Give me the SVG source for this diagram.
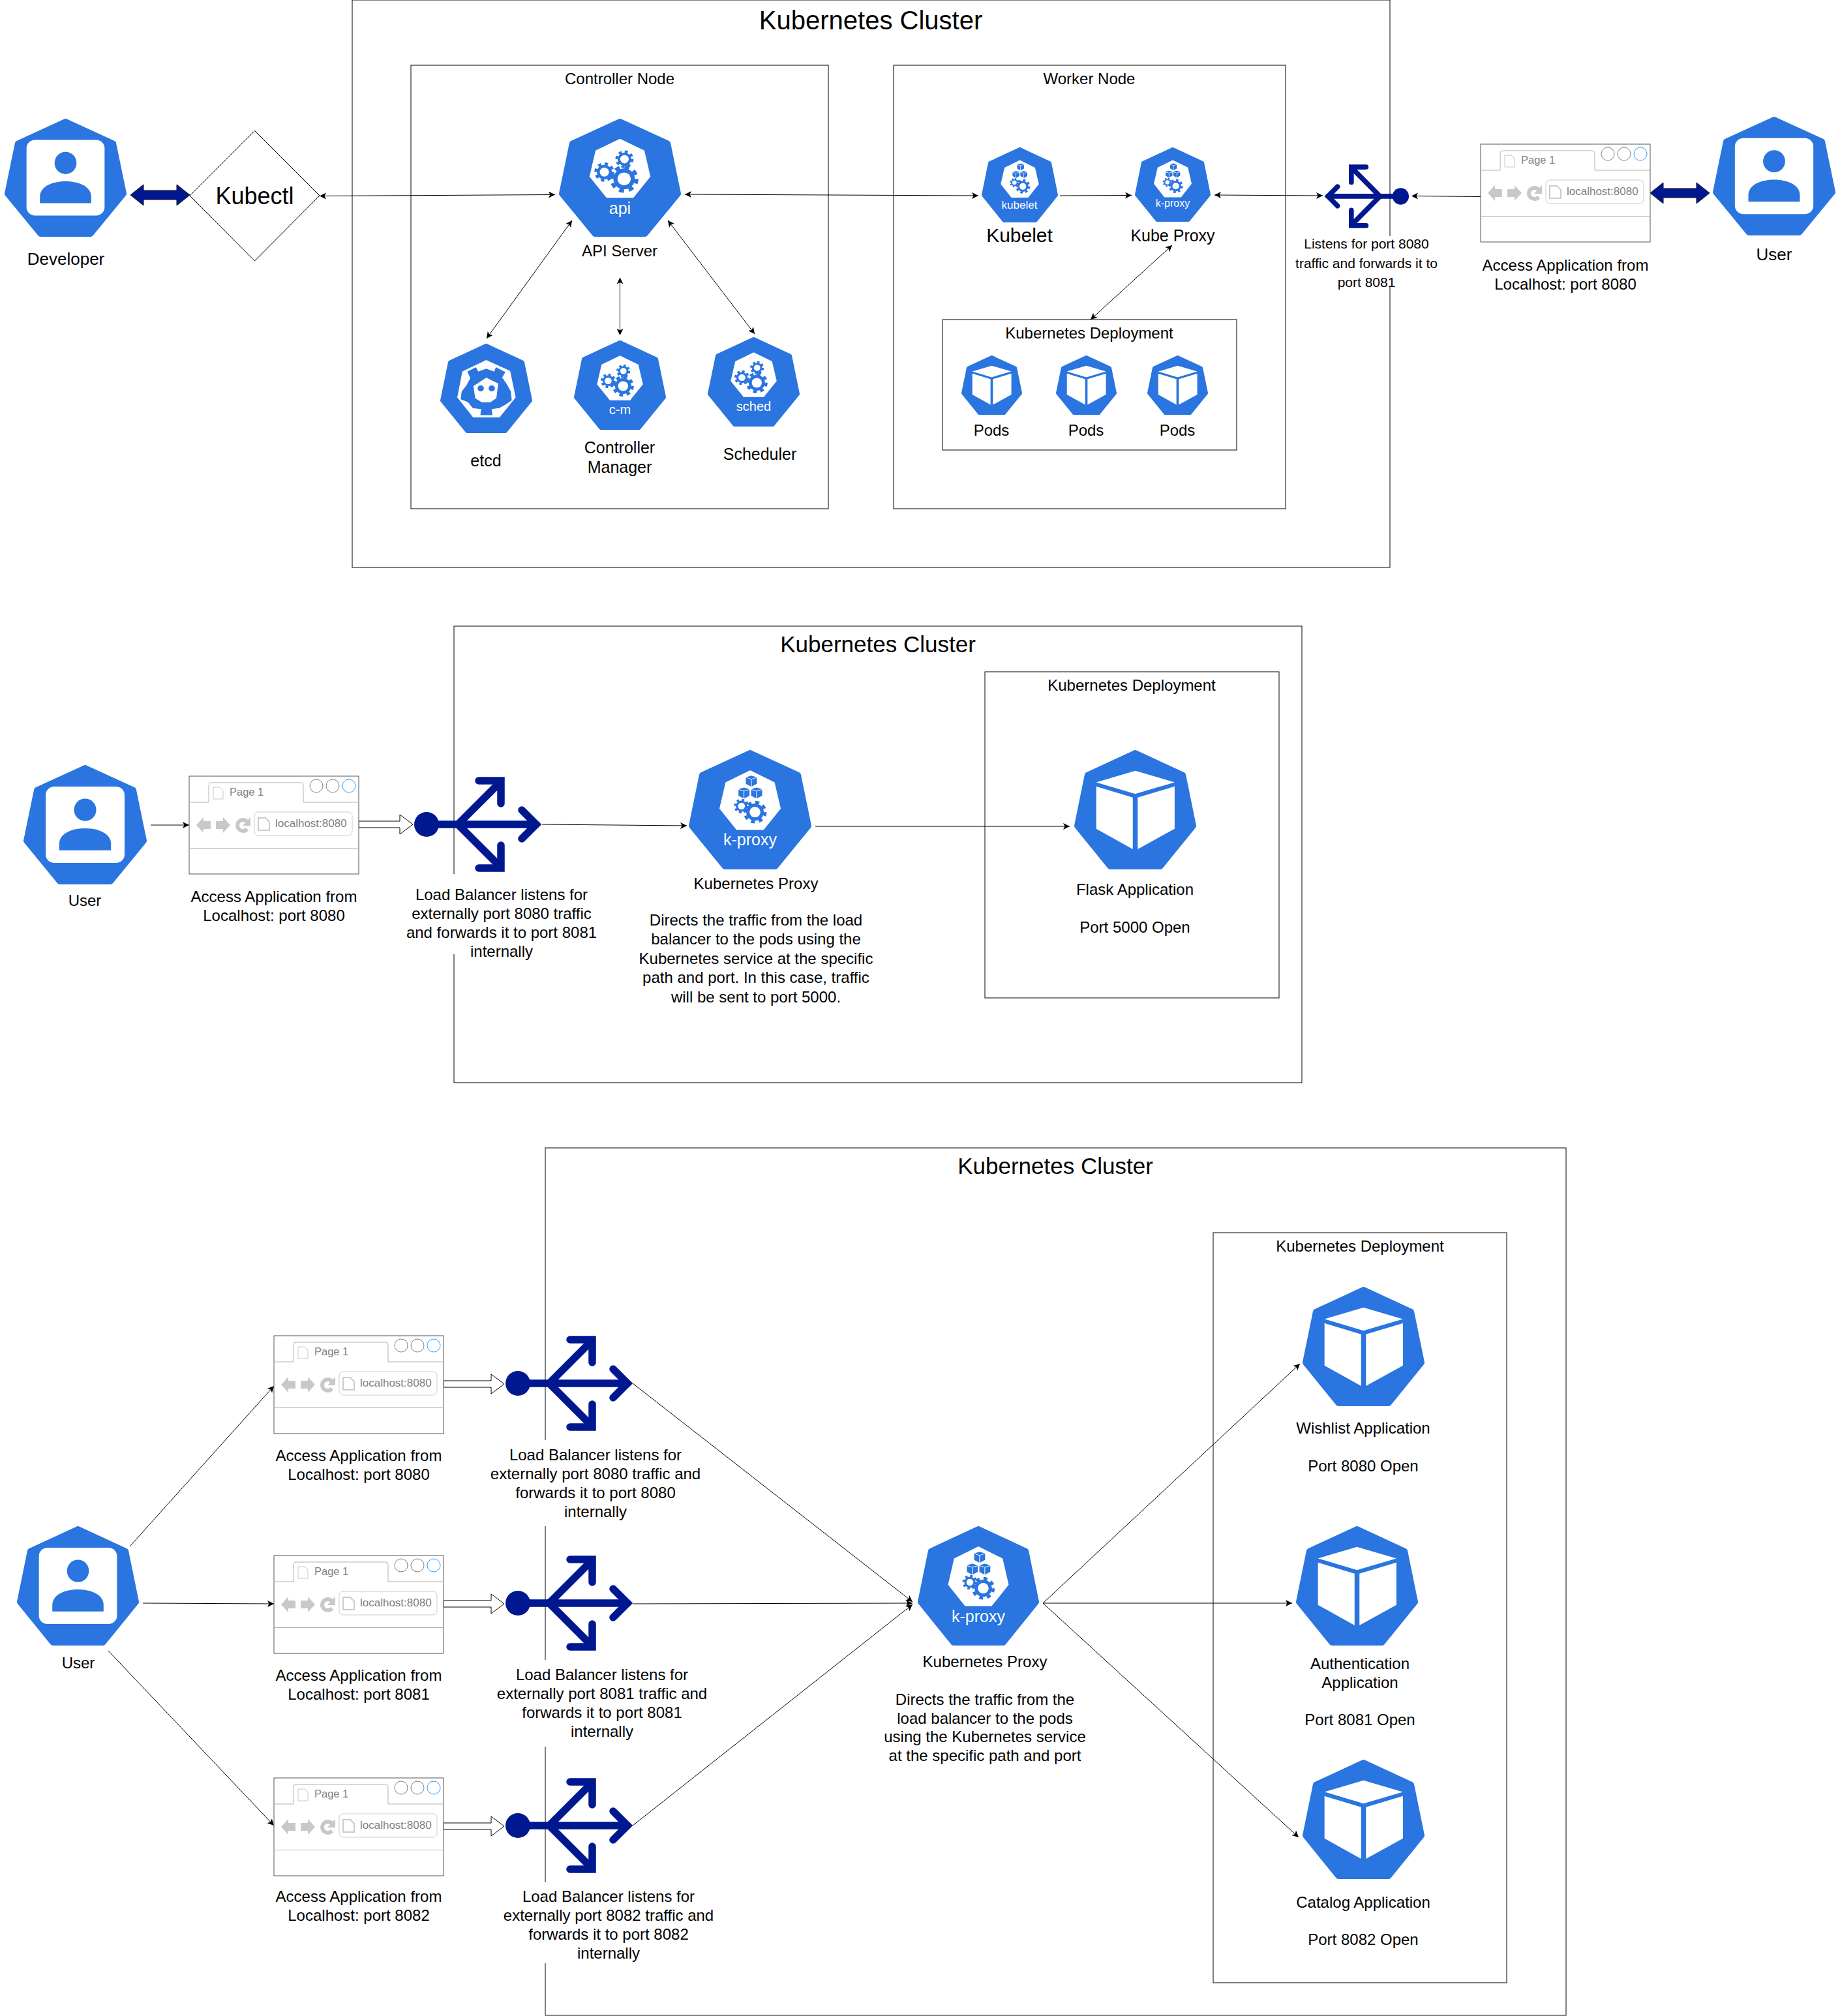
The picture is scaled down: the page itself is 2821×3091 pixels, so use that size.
<svg xmlns="http://www.w3.org/2000/svg" width="2821" height="3091" viewBox="0 0 2821 3091">
<style>
text{font-family:"Liberation Sans",Arial,sans-serif;font-size:24px;fill:#000;text-anchor:middle}
.box{fill:none;stroke:#000;stroke-width:1}
.c{fill:none;stroke:#000;stroke-width:1;marker-end:url(#ah)}
.cc{fill:none;stroke:#000;stroke-width:1;marker-end:url(#ah);marker-start:url(#ahs)}
.wl{fill:#fff}
.br{font-size:17px;fill:#808080;text-anchor:start}
.pg{font-size:16.5px;fill:#808080;text-anchor:start}
.hollow{fill:#fff;stroke:#000;stroke-width:1}
.navy{fill:#00188f;stroke:#111;stroke-width:1}
.k8s{fill:#fff}
</style>
<defs>
<marker id="ah" markerUnits="userSpaceOnUse" markerWidth="12" markerHeight="11" refX="10" refY="5" orient="auto"><path d="M0 0L10 5L0 10L2.500 5Z" fill="#000"/></marker>
<marker id="ahs" markerUnits="userSpaceOnUse" markerWidth="12" markerHeight="11" refX="0" refY="5" orient="auto"><path d="M10 0L0 5L10 10L7.500 5Z" fill="#000"/></marker>
<g id="gear"><circle r="9.5" fill="none" stroke="#2a75e0" stroke-width="3.4" stroke-dasharray="3.73 3.73"/><circle r="8.4" fill="#2a75e0"/><circle r="5.2" fill="#fff"/></g>
<g id="cubeShape"><path d="M50 17.4L82.3 27L50 36.7L18 27Z"/><path d="M18 30.5L48 39.8V83L18 66Z"/><path d="M52 39.8L82.3 30.5V66L52 83Z"/></g>
<polygon id="h" points="50,2.5 89,21 97.5,63.5 70.5,97.5 29.5,97.5 2.5,63.5 11,21" fill="#2a75e0" stroke="#2a75e0" stroke-width="5" stroke-linejoin="round"/>
<polygon id="inner" points="50,17 70,27 75,49 61,67 39,67 25,49 30,27" fill="#fff"/>
<symbol id="i-user" viewBox="0 0 100 100" preserveAspectRatio="none"><use href="#h"/><rect x="18" y="18" width="64" height="64" rx="7" fill="#fff"/><ellipse cx="50" cy="37.5" rx="9" ry="9.4" fill="#2a75e0"/><path d="M29 71.5V66C29 58 38 53 50 53S71 58 71 66V71.5Z" fill="#2a75e0"/></symbol>
<symbol id="i-ctl" viewBox="0 0 100 100" preserveAspectRatio="none"><use href="#h"/><use href="#inner"/><use href="#gear" transform="translate(53.4,51) scale(1.05)"/><use href="#gear" transform="translate(53.7,34.3) scale(.67)"/><use href="#gear" transform="translate(37.2,45.2) scale(.73)"/></symbol>
<symbol id="i-kp" viewBox="0 0 100 100" preserveAspectRatio="none"><use href="#h"/><use href="#inner"/><use href="#cubeShape" fill="#2a75e0" transform="translate(44,19) scale(.14)"/><use href="#cubeShape" fill="#2a75e0" transform="translate(38,29) scale(.14)"/><use href="#cubeShape" fill="#2a75e0" transform="translate(48.3,29) scale(.14)"/><use href="#gear" transform="translate(43,47) scale(.55)"/><use href="#gear" transform="translate(54,52) scale(.85)"/></symbol>
<symbol id="i-pod" viewBox="0 0 100 100" preserveAspectRatio="none"><use href="#h"/><use href="#cubeShape" fill="#fff"/></symbol>
<symbol id="i-etcd" viewBox="0 0 100 100" preserveAspectRatio="none"><use href="#h"/><polygon points="50,18.3 76,30.5 82,60 64.5,82.4 35.7,82.4 18.5,60 24,31" fill="#fff"/><polygon points="29.4,31.2 38.7,26.3 41.4,31.2 49.9,28 58.6,31.2 60.5,26.3 70.8,31.7 67.3,37.8 72.2,45.1 76.8,53.7 77.7,63.4 70.8,68.3 64,72 55.9,73.2 56.7,80 43.6,80 44.4,73.2 35.4,72 30,65.4 22.3,62.2 23.2,53.7 28.6,46.3 32.7,38.5" fill="#2a75e0"/><polygon points="50,38 63,44.5 61,61 54.5,65.6 45,65.6 38,61 36,47.5" fill="#fff"/><circle cx="44" cy="50" r="3.4" fill="#2a75e0"/><circle cx="56" cy="50" r="3.4" fill="#2a75e0"/></symbol>
<symbol id="i-lb" viewBox="0 0 196 146" overflow="visible"><circle cx="19" cy="73" r="19" fill="#00188f"/><g fill="none" stroke="#00188f" stroke-width="11.500" stroke-linecap="round"><path d="M19 73H187"/><path d="M165 51L187 73L165 95" stroke-linejoin="miter"/><path d="M67 73L130 10"/><path d="M67 73L130 136"/><path d="M99 6H133V41" stroke-linejoin="miter"/><path d="M99 140H133V105" stroke-linejoin="miter"/></g></symbol>
<symbol id="i-br" viewBox="0 0 260 150" overflow="visible"><rect width="260" height="150" fill="#fff" stroke="#555" stroke-width="1"/><path d="M0 40H30V14Q30 10 34 10H171Q175 10 175 14V40H260" fill="#fff" stroke="#b3b3b3"/><path d="M37 17H47L52 22V35H37Z" fill="none" stroke="#c8c8c8"/><circle cx="195" cy="15" r="10" fill="none" stroke="#808080"/><circle cx="220" cy="15" r="10" fill="none" stroke="#808080"/><circle cx="245" cy="15" r="10" fill="none" stroke="#29a0ff"/><path d="M0 110.500H260" stroke="#b3b3b3"/><path d="M11 75L22 63V69H33V81H22V87Z" fill="#c8c8c8"/><path d="M63 75L52 63V69H41V81H52V87Z" fill="#c8c8c8"/><path d="M89 70A8.500 8.500 0 1 0 89 81" fill="none" stroke="#c8c8c8" stroke-width="6"/><path d="M94 63V76H82Z" fill="#c8c8c8"/><rect x="100" y="55" width="150" height="36" rx="6" fill="none" stroke="#ccc"/><path d="M106 64H117L123 70V83H106Z" fill="none" stroke="#ccc" stroke-width="2"/></symbol>
<path id="hb" d="M0 -5H63V-15L83 0L63 15V5H0Z"/>
<path id="hb2" d="M0 -5H73V-15L93 0L73 15V5H0Z"/>
<path id="db" d="M0 0L20 -16V-7H71V-16L91 0L71 16V7H20V16Z"/>
</defs>

<g id="frames">
<rect class="box" x="540" y="0" width="1591" height="870"/>
<rect class="box" x="696" y="960" width="1300" height="700"/>
<rect class="box" x="836" y="1760" width="1565" height="1330"/>
<rect class="wl" x="1985" y="362" width="220" height="78"/>
<rect class="wl" x="625" y="1340" width="290" height="123"/>
<rect class="wl" x="760" y="2208" width="320" height="132"/>
<rect class="wl" x="770" y="2545" width="320" height="133"/>
<rect class="wl" x="780" y="2886" width="320" height="124"/>
</g>

<g id="connectors">
<path class="cc" d="M490 300.500L851 298.500"/>
<path class="cc" d="M1050 298L1500 300"/>
<path class="c" d="M1625 300L1735 299.500"/>
<path class="cc" d="M1862 299L2028 300"/>
<path class="c" d="M2270 301.500L2164 300.500"/>
<path class="cc" d="M877 338L746 519"/>
<path class="cc" d="M950.500 425.500V514"/>
<path class="cc" d="M1024 338L1157 512"/>
<path class="cc" d="M1797 376L1672 490"/>
<use class="navy" href="#db" x="200" y="299"/>
<use class="navy" href="#db" x="2530" y="296"/>
<path class="c" d="M231 1265H290"/>
<path class="c" d="M831 1264L1053 1266"/>
<path class="c" d="M1250 1267H1640"/>
<use class="hollow" href="#hb" x="550" y="1264"/>
<use class="hollow" href="#hb2" x="680" y="2122"/>
<use class="hollow" href="#hb2" x="680" y="2459"/>
<use class="hollow" href="#hb2" x="680" y="2800"/>
<path class="c" d="M199 2371L420 2125"/>
<path class="c" d="M219 2458L420 2459"/>
<path class="c" d="M166 2531L420 2799"/>
<path class="c" d="M970 2121L1399 2456"/>
<path class="c" d="M970 2459L1399 2458"/>
<path class="c" d="M970 2799L1399 2460"/>
<path class="c" d="M1599 2458L1993 2091"/>
<path class="c" d="M1599 2458H1981"/>
<path class="c" d="M1599 2458L1991 2817"/>
</g>

<g id="titles">
<text x="1335" y="45" style="font-size:40px">Kubernetes Cluster</text>
<text x="1346" y="1000" style="font-size:35px">Kubernetes Cluster</text>
<text x="1618" y="1800" style="font-size:35px">Kubernetes Cluster</text>
</g>

<g id="controller-node"><rect class="box" x="630" y="100" width="640" height="680"/><text x="950" y="129">Controller Node</text></g>
<g id="worker-node"><rect class="box" x="1370" y="100" width="601" height="680"/><text x="1670" y="129">Worker Node</text></g>
<g id="deployment-1"><rect class="box" x="1445" y="490" width="451" height="200"/><text x="1670" y="519">Kubernetes Deployment</text></g>
<g id="deployment-2"><rect class="box" x="1510" y="1030" width="451" height="500"/><text x="1735" y="1059">Kubernetes Deployment</text></g>
<g id="deployment-3"><rect class="box" x="1860" y="1890" width="450" height="1150"/><text x="2085" y="1919">Kubernetes Deployment</text></g>

<g id="developer"><use href="#i-user" x="7" y="182" width="187" height="181"/><text x="101" y="406" style="font-size:26px">Developer</text></g>
<g id="kubectl"><path d="M291 300L390.500 200.500L490 300L390.500 400Z" fill="#fff" stroke="#000"/><text x="390.500" y="313" style="font-size:36px">Kubectl</text></g>
<g id="api-server"><use href="#i-ctl" x="857" y="182" width="187" height="181"/><text x="950.500" y="328" class="k8s" style="font-size:25px">api</text><text x="950" y="393">API Server</text></g>
<g id="etcd"><use href="#i-etcd" x="675" y="527" width="141" height="137"/><text x="745" y="715" style="font-size:25px">etcd</text></g>
<g id="controller-manager"><use href="#i-ctl" x="880" y="522" width="141" height="137"/><text x="950.500" y="635" class="k8s" style="font-size:20px">c-m</text><text x="950" y="695" style="font-size:25px">Controller</text><text x="950" y="725" style="font-size:25px">Manager</text></g>
<g id="scheduler"><use href="#i-ctl" x="1085" y="517" width="141" height="137"/><text x="1155.500" y="630" class="k8s" style="font-size:20px">sched</text><text x="1165" y="705" style="font-size:25px">Scheduler</text></g>
<g id="kubelet"><use href="#i-kp" x="1505" y="226" width="117" height="115"/><text x="1563" y="320" class="k8s" style="font-size:17px">kubelet</text><text x="1563" y="371" style="font-size:30px">Kubelet</text></g>
<g id="kube-proxy"><use href="#i-kp" x="1740" y="226" width="116" height="114"/><text x="1798" y="317" class="k8s" style="font-size:16px">k-proxy</text><text x="1798" y="370" style="font-size:25px">Kube Proxy</text></g>
<g id="pod-1"><use href="#i-pod" x="1474" y="545" width="93" height="91"/><text x="1520" y="668">Pods</text></g>
<g id="pod-2"><use href="#i-pod" x="1619" y="545" width="93" height="91"/><text x="1665" y="668">Pods</text></g>
<g id="pod-3"><use href="#i-pod" x="1759" y="545" width="93" height="91"/><text x="1805" y="668">Pods</text></g>
<g id="lb-top"><use href="#i-lb" width="196" height="146" transform="translate(2160,252) scale(-0.663,0.671)"/><text x="2095" y="381" style="font-size:21px">Listens for port 8080</text><text x="2095" y="411" style="font-size:21px">traffic and forwards it to</text><text x="2095" y="440" style="font-size:21px">port 8081</text></g>
<g id="browser-top"><use href="#i-br" x="2270" y="221" width="260" height="150"/><text class="pg" x="2332" y="251">Page 1</text><text class="br" x="2402" y="299">localhost:8080</text><text x="2400" y="415">Access Application from</text><text x="2400" y="444">Localhost: port 8080</text></g>
<g id="user-top"><use href="#i-user" x="2626" y="179" width="188" height="182"/><text x="2720" y="399" style="font-size:26px">User</text></g>

<g id="user-2"><use href="#i-user" x="36" y="1173" width="189" height="183"/><text x="130" y="1389">User</text></g>
<g id="browser-2"><use href="#i-br" x="290" y="1190" width="260" height="150"/><text class="pg" x="352" y="1220">Page 1</text><text class="br" x="422" y="1268">localhost:8080</text><text x="420" y="1383">Access Application from</text><text x="420" y="1412">Localhost: port 8080</text></g>
<g id="lb-2"><use href="#i-lb" x="635" y="1191" width="196" height="146"/><text x="769" y="1380">Load Balancer listens for</text><text x="769" y="1409">externally port 8080 traffic</text><text x="769" y="1438">and forwards it to port 8081</text><text x="769" y="1467">internally</text></g>
<g id="proxy-2"><use href="#i-kp" x="1056" y="1150" width="188" height="183"/><text x="1150" y="1296" class="k8s" style="font-size:25px">k-proxy</text><text x="1159" y="1363">Kubernetes Proxy</text><text x="1159" y="1419">Directs the traffic from the load</text><text x="1159" y="1448">balancer to the pods using the</text><text x="1159" y="1478">Kubernetes service at the specific</text><text x="1159" y="1507">path and port. In this case, traffic</text><text x="1159" y="1537">will be sent to port 5000.</text></g>
<g id="flask"><use href="#i-pod" x="1647" y="1150" width="187" height="183"/><text x="1740" y="1372">Flask Application</text><text x="1740" y="1430">Port 5000 Open</text></g>

<g id="user-3"><use href="#i-user" x="26" y="2340" width="187" height="183"/><text x="120" y="2558">User</text></g>
<g id="browser-3a"><use href="#i-br" x="420" y="2048" width="260" height="150"/><text class="pg" x="482" y="2078">Page 1</text><text class="br" x="552" y="2126">localhost:8080</text><text x="550" y="2240">Access Application from</text><text x="550" y="2269">Localhost: port 8080</text></g>
<g id="browser-3b"><use href="#i-br" x="420" y="2385" width="260" height="150"/><text class="pg" x="482" y="2415">Page 1</text><text class="br" x="552" y="2463">localhost:8080</text><text x="550" y="2577">Access Application from</text><text x="550" y="2606">Localhost: port 8081</text></g>
<g id="browser-3c"><use href="#i-br" x="420" y="2726" width="260" height="150"/><text class="pg" x="482" y="2756">Page 1</text><text class="br" x="552" y="2804">localhost:8080</text><text x="550" y="2916">Access Application from</text><text x="550" y="2945">Localhost: port 8082</text></g>
<g id="lb-3a"><use href="#i-lb" x="775" y="2048" width="196" height="146"/><text x="913" y="2239">Load Balancer listens for</text><text x="913" y="2268">externally port 8080 traffic and</text><text x="913" y="2297">forwards it to port 8080</text><text x="913" y="2326">internally</text></g>
<g id="lb-3b"><use href="#i-lb" x="775" y="2385" width="196" height="146"/><text x="923" y="2576">Load Balancer listens for</text><text x="923" y="2605">externally port 8081 traffic and</text><text x="923" y="2634">forwards it to port 8081</text><text x="923" y="2663">internally</text></g>
<g id="lb-3c"><use href="#i-lb" x="775" y="2726" width="196" height="146"/><text x="933" y="2916">Load Balancer listens for</text><text x="933" y="2945">externally port 8082 traffic and</text><text x="933" y="2974">forwards it to port 8082</text><text x="933" y="3003">internally</text></g>
<g id="proxy-3"><use href="#i-kp" x="1407" y="2340" width="186" height="183"/><text x="1500" y="2487" class="k8s" style="font-size:25px">k-proxy</text><text x="1510" y="2556">Kubernetes Proxy</text><text x="1510" y="2614">Directs the traffic from the</text><text x="1510" y="2643">load balancer to the pods</text><text x="1510" y="2671">using the Kubernetes service</text><text x="1510" y="2700">at the specific path and port</text></g>
<g id="wishlist"><use href="#i-pod" x="1997" y="1973" width="187" height="183"/><text x="2090" y="2198">Wishlist Application</text><text x="2090" y="2256">Port 8080 Open</text></g>
<g id="auth"><use href="#i-pod" x="1987" y="2340" width="187" height="183"/><text x="2085" y="2559">Authentication</text><text x="2085" y="2588">Application</text><text x="2085" y="2645">Port 8081 Open</text></g>
<g id="catalog"><use href="#i-pod" x="1997" y="2698" width="187" height="183"/><text x="2090" y="2925">Catalog Application</text><text x="2090" y="2982">Port 8082 Open</text></g>
</svg>
